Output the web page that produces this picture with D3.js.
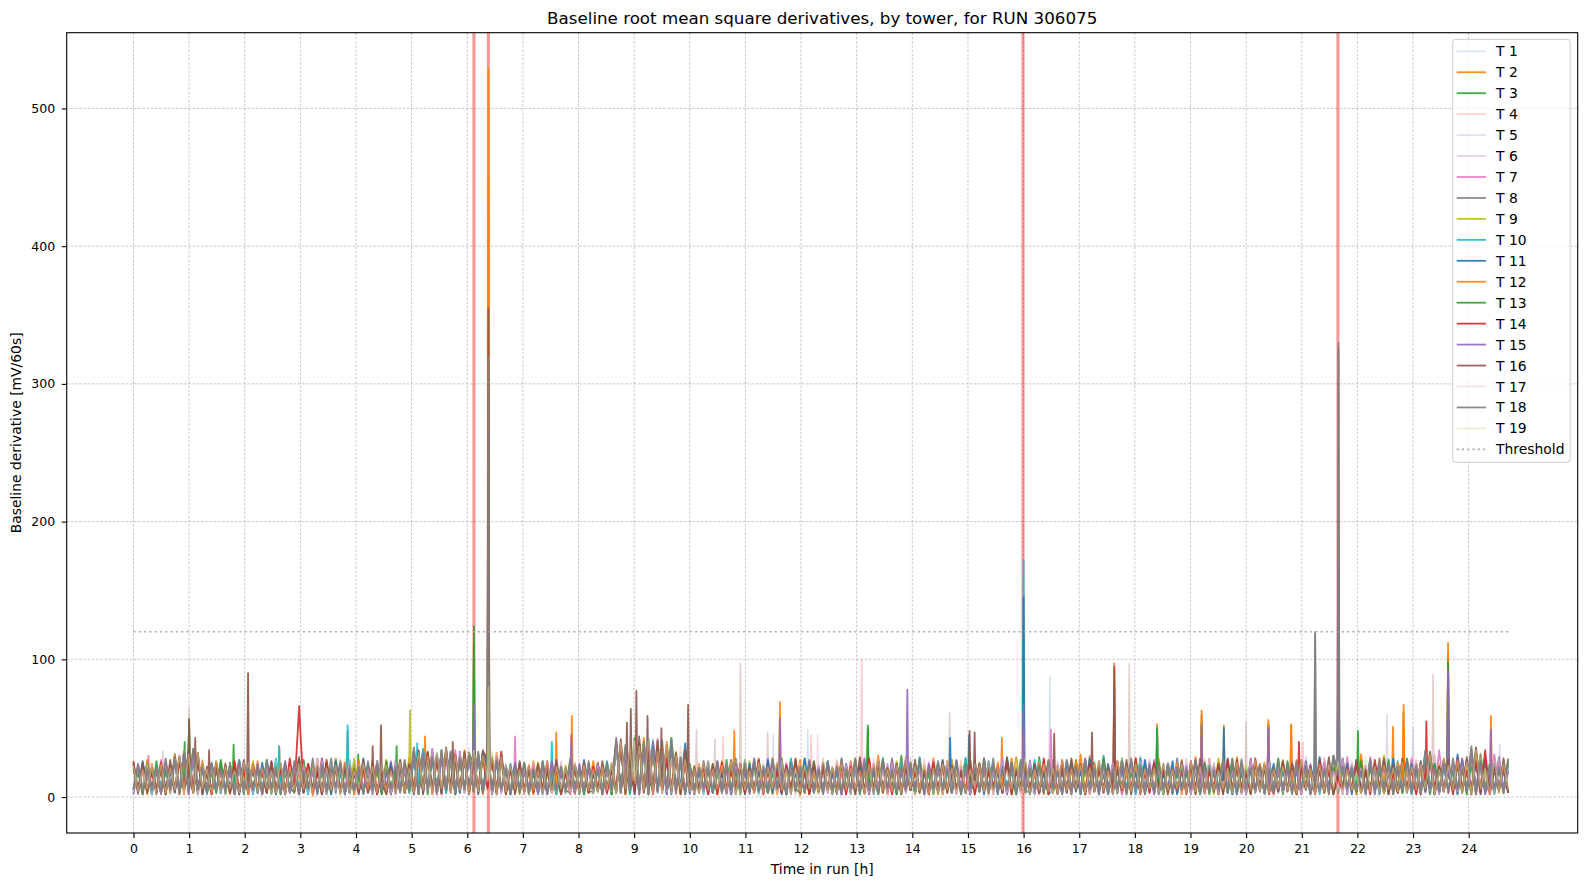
<!DOCTYPE html>
<html><head><meta charset="utf-8">
<script src="https://cdn.jsdelivr.net/npm/d3@7"></script>
<style>body{margin:0;background:#fff} svg{display:block} text{font-family:"DejaVu Sans",sans-serif;fill:#000}</style>
</head><body><svg id="c" width="1586" height="886"></svg>
<script>
// ---------------- data ----------------
const runHours = 24.71;
const towers = d3.range(1, 20).map(i => "T " + i);
const xTicks = d3.range(0, 25);
const yTicks = [0, 100, 200, 300, 400, 500];
const threshold = 120;
const alertHours = [6.12, 6.38, 15.99, 21.65];
const towerColors = ["#aec7e8","#ff7f0e","#2ca02c","#ff9896","#c5b0d5","#c49c94","#e377c2","#7f7f7f","#bcbd22","#17becf","#1f77b4","#ff7f0e","#2ca02c","#d62728","#9467bd","#8c564b","#f7b6d2","#7f7f7f","#dbdb8d"];
const paleTowers = [1, 4, 5, 6, 17, 19];
// base derivative samples, equally spaced over the run; characters 0-9 = 0-9, a-z = 10-35, A-Z = 36-61
const baseT1 = "2h5m3g8p1k6u3x4s7n2j4p6i3 l2g7o3j5r2h6m4q1k8g3n5i2p 4m1j6q3h7l2t5w3v6r2y4s7u1 x3t6q2k7h4o1l5g3p6j2m4h7k 5l2p4B7x3F5u2H6v3q8j2n5h3 j4o2l7g3r5k1n6h3s7i2p5l3g 2r6k3o5h1m7j3t4g6p2l5i3q7 m3j6h2s4o7g1p5k3n8i2r6j4l 4k2q6h3m7j1t5g3o6l2i7p4h3 n5i2s6k3g7p2m5j4r1h6l3q7k 3o6h2u5l3j7g4q2m6i3p5k2s6 k4r2m7h5v3j6p2l4t6i3q5n2k";
const baseT2 = "k5k2o7i3n4u2y6t5h3q7j2m6g4 p3l6h2r5k7g4o1m6j3s2n7h4l 3q6j2n5h4t7r3w5u2x6q4y3s7 w5r2u6m3j7h2p5l3k8g2o6i3q 6j3n5D2w7C4G6y3E5s2r3k7h4 m2q6i4o7h3s5k2n7j4r1l6g3p 4l7g3q2n6j5u3h7k2o5m3i6s2 o6h3l5r2k7i4p3n2t6j5g3m7h 2p5k4v3i6n3l7q2h5s4j6o2m5 k3r6h2n7j4q5g2t6l3i7p2k5o 5i2m7h4s3l2o6k5r3j7n4g6u3 q6k3n5w2j7l4r6h3y5m2s7i4";
const baseT3 = "3m6h2q5j7s4v2z6k3o5i7l2q4 j6n3h5p2l73t4i6m2k5r4h7o3 5h2q6k4m7j3s5x2t6v3r2u5w6 v3s6p4n2i7l5h3q6j2m53o7k4 4p6l2B5y3H6x2D5t3z6o5j2n7 k5h3r2m6j4p7l3i5s2n63h4q7 6o3k5j2r4m7h3p6i2u5l3n7g4 q2l5j6s3h7k4n2o5i6r3m2t5k 3j7n2r5k3p6g2l7s3o5i4m6h2 o4h6l3q2m5j7i3s2k6p4n3r5h 7k3p5i2n6l4u3j7h5q2m6o3k5 l3s6i2x5m4p6j2r5n3v7h4l6o";
const baseT4 = "m6i3n2l7h4q2u6r3j5m2p4k7h3 n2j6l4q3h7m5o2k3i6s4l2h7n 4k7i3o2l6p5t3v6q2y4s6r3x2 t5q3v2j6m4h3o5k7i2l4p3n6h 3m6j2A4v6E3z5C2r6w3n4k6i2 o3l5h6p2j4r5i3m2q7k3h5n2s 5i2o6k3s5h2m7j4p3l6i4r2n5 j6m3q2h5l7o3k4s6i2n53p7j2 l4i7o2s5k3n6h2r5j3m7q2o4i 3n5k2t6h3p4l7j2m5r3i6o2k4 h3q6m2j5s3l7i4o3n2u6k4h5p 5l2r6i4v3n7k2q5h3s6j2o5m";
const baseT5 = "4p2k7h3m6r5w2s4l6i3o2n5j7 k4o2i6r3m5h2q6l3j7n2s5h4k 2l6j4m3p5i6u2y5r4w3t5q6z2 u3r6o5h2l7j4n3q2m6i5k3p7h 7j2o4C6u3F2y5B4s3x6q2m5k3 n6i2p3l5h7q2k4n6j3s2m5h7o 3k5r2h6n3l5p2i7o4j3t6l2m4 q3h6k2o5j4s7l3i4n2q6h3r5k 5m2j7l3p6h2u4k5i6o3n3s7j2 k6q3m4h2r5j6l3o2p7i4n3k5s 3j6o2m5i4t6k3h7q2n5l4r3j6 o2k5h6x3p4l2s6j5v3n7i4q2m";
const baseT6 = "7j3m5i2p6t3u5x2o6k3h5n2r6 h3l7j2o5m3q6i2k4s3h7n5j2p 6k3p2i5n7h3v2s6y4t3w2r6u4 s6u2r3k7i5o2j6m4h3q5l7k2n 2i5m7D3x6B5F2v4A6t3p7l2j5 p4j6h3r2l5m6k3o2i7s4j3n5h 4n2q6k5h3s7j4m2o3r6i2l5p3 i6o3l4t2k5h7n3q5j2m6r3i4o 3q5j2m6s3h4k7o2l5i3u6n2j4 p2m5k7i3r4o2l6h3s5j7k4q2n 6h3n5r2k7i3o4m6j2t5l4p3h7 n5j2q4y6k3m7i2s3p5w6l2o4j";
const baseT7 = "p2o5i3r6k4u5y3q7h2n5j6l3p2 m5j3q6h2o4k7l3s2i5n6p3j4h 5n3k7q2i6m4x3t5w2r6y3u5s7 w2t5q6i3o2m4j7h3r5k2o6l3i 5k2p6E3y5A7w2G3u6r4o2j7m3 l6h2q5n3k7i2s4m6o3j5r2l7h 3m6j2p4r3k6h5o2l3t7i5n2q4 k5r2m3j6p4o2h7l5s3k6i2n4r 6i3o5l2u4j7m3q2h5k6p3r2l7 j3p6m4k2s5n7h3o2j5r4l6i3q 4q2l6o3j7m5h2t4k6n3i7p2r5 m4s6k3o2y5j6n3r4q7i2v5l3";
const baseT8 = "5l3q2k6o4v3x5s2m6i4p3j7n2 o4k2r6m3i7j2p5l4h6s3q2k5n 3j6o4l2q7i5u3z6s2v5r7t3w4 u4x2s5n3k6i7m2q4j5h3p6l2o 3o5k2C7v4E2B6x5F3s7p4l2i6 q3k6n2s5i4o7j3m5l2r6h4p3k 6j2n5m3q7h2o4l6s3i5k4r2n7 l5q3i6k2o4j7s3m2p5h6n3l4q 4n6j2o3r5l7i2m4q6k3s2j5o3 m2s5k6i3p7l2n4r5h6j3o2q7l 3l6q4j2o5m6t3i7n4k2r5s3h6 p6j3o2u5l4r3n7k6w2m5j3t6i";
const baseT9 = "l4n6j3o2l7p5t3w6j2q5l3o6h2 q5i3n2l7k4r3m6h5p2j6k3s5i 6m2l5k7o3j2w6r4u3x5q6v2t5 r5u3q2m7j4k3p6h5i2n7l4o3j 4j6o3B2w5D6y3E4t7x2r5n3k6 o2m5j7k3q4h6n2p3l5i7s2j4m 5k3p6i4n2r6j3l5q2o7h3m5k4 n3r6j5h2p4l7k3o2s6i5m3q2l 3p5k7m2t4i6l3o5j2r6n4k7h3 l6j3q3o5m2s4k7i5n2p6j3l4r 5m2o6k4q3j2s7l5o3i6n3u2k7 r3l6i5w2o4k6q3m2z5j7n3p5";
const baseT10 = "6k3p2n5i7r3w6t4l2o6j5m3q7 j2n6l4s3k5o7i2m3q5l6h2r4j 3o6k2m5j7q4v2y5s6u3x2r6t4 t3v6r5l2o7j4m3h6q2k5n3i7l 6l3q5D4x2B7z5F3s2v6q4m6j2 k3o5l2r6i4q3m7j5h2s6l4o3k 3q6i2o5k4n7j2r5m3p6h2t4l7 p6j3m4s2o5k7h3q6l2n53r6i2 5k7o3n2q6j4u3l5i7m2s6j3p4 o3l6h5r2k7m4q3i2o6n5k3t2m 4j6p3l5r2o7k3m6i2s4q5n3l6 q5m2k6v3o4l7i2p3x5n6j2r4m";
const baseT11 = "n3q5l2o6j3s6y4u2k5p3m7i2o5 l3p6k2o4j7r3n5i6l2q4m3h6s 5j2n6p3l7k2x4s6v3z5u3q7w2 x5q2u3o6k4l7i2n5p3j6m2r4h 4n6k3A5w2C6G3y5r2u7D3k5o2 m5i3q6l2o4j7r3k2n5h6s3l4p 5h2s6k4m3q2p7j4o3r5l6i2n3 r4l6j3p5n2q6k3t4j7m2o5i3l 2m6q4j3s5l6o2k7n4i3r5p2h6 q2j5o7l3n4i6s2m3k5q7l2o4j 6p3l5n2t4k3j7o2r5i6m2q3s5 k6o3q4t2m5n3v6j5p2r4o6k3";
const baseT12 = "5m2r6j4o3v2s6y4q3l5j4n2p6 i5q2m3k6o4n2j7l5s3h6p4m2r 4l6j3r2n5o6y3u5x2t6w4s5v3 v2s5w6l3n2k5q4i3m7j5o2k6l 5p2m6E3z5C2H6w4B5t2s6k3o5 j4n6l3q2k7o5i3s2m6j4r3l5h 6k3o2l5s4j3n6q2i7l4p2o5m3 o2q5k6i3r4m2n7j4s5l3k6p2q 4l6j3q5m2o3r7i4p2k6n5j3s2 m5o2k4t3l6j2q5i7n3r4o5k2m 3n5r2k6i4p5l3o7j2v4m6q3k5 p4l6n2x5k3s6j4o3z2p6l5q3r";
const baseT13 = "6j2o5m3k6t4x2v5n4i3r2p6l3 o5k3q2n6i4l3r5j6p2k7j3o4m 3n5l2q6j4m5z2s6w3y5t2u6r3 s4w2t5j6m3p2l7i4o3k5q6j2n 3l6p2C5A3x6D2z5w3H6s2o5l4 p3k5o6j2r4l5n3i7q2m5k3p6j 4o3l6j5q2n6i3s4m2k7o3r5j2 l6n3q2o5k4s3j6m4p2l5i7n3o 5j2r6k3o5m2s6l3q4i7n3k5p2 n4l7j3q5o2k6r3m5i2p6l3o4s 2q6k4o3m5j7l2s6k4q3n5i6r2 m3p6l5u2o4q6j3r2w5k6o3m4q";
const baseT14 = "q4l6i3p2n5q6v3t5j2o6m3q4k2 n6j3p4l2s5k6o3i2r5m4p6j3l 5o2k6l4r3n3u6x2r5y3v6t2s5 t6r3x2k5o4n3j6q5l2i7k4o3m 6m3k5B6y3D5A2w6s4v3q6j4n2 l2p6j5o3k4r2m7i3n5q6j2l4o 6k4q2m5j3s4o6l2n3r5i7k2p4 o3l6j5q2n4i7m3r2k5o6l3s2j 3r5k6n2o4l6j3q5m4s2i3p6k4 k5n2q6l3j7o2r5m4i3s6n2k5p 5j3o6m2q4k3t6l5p3j2r6n4i3 r5k2p3v6m4o2s5j6q3y2k5n3";
const baseT15 = "2n5k7j3q6s4w2u6l3o5k6i2r5 k4o2m6j5q3n2l7i4s3k6o2m5j 6l3q5i2o4m7v3t5z2s6w3x5r2 r6v3s4k2p5j6n3l2q5i7m3o4k 5o2l6F3v5B2y6E4u2A5r3m6j4 n3q5k2o6j4s5l3p6i2n5k4r3m 3p6j2o4l5s2k7n3q5i4m6l2o5 k5m3r6j2p4n5l3s2o6i4q3k5n 6i2q4l5s3j2n6p5k3r4m5o2l6 o3k5n2r6j4l3q7i5m2s4j6o3k 4n6j2q3l5p6i4s2m5k3r2o6n4 j5q3l6w4k2p5m3s4x6o2n4r5j";
const baseT16 = "o5p3l6k2r4t6z3w2m5j6o3l2r5 j6l3q5o2k4s3i6n2p5l3m6k2r 3r6n2l5q3o6y2w5u3A6t5x2v3 y4s6u3m2q5k6o3j5r2l6n3p4i 4q6n3G2B5I3z6F4C5w2y6m3q5 o5k3r2n6l4q3j7o5m2s3k6p4l 6l3o5j2t4n5q3k6o2m5r3j6l4 q4n6j3r2o5m6k3s4l5p2o3j6n 5k3s6o2l4q3m7j5r2p4k6n3o2 l5q3n2s6k4o3m5r6j2p4m3l6q 4o2r6l5j3t2p6m4q3k5o6s2n3 s3m6p5x2l4r6n3t2A5o6l4s3";
const baseT17 = "3m6o2l5p4r3y6v2n4k5j2o6l4 p3k5n2r6j4m5o3l6q2j5k3s4n 5k2p6n3q4l6z3u5y2x6s4w3t5 v5t2w3o6l4m2q5j6k3n2r5j4p 2n5l4A3x6E5C2y6v4s2B5l3o2 q6k3o4m2s5j6p3l2r4n6o3k5q 5j3r6n2o4l3s6k2p5m4q2l6j3 n2q5k6m3o4r2j5s3l6n4p2k5o 4o3l6j5r2n6k3p4s2m5q3j6l2 q5n3s2l6k4o3r5j6n2q4k3p6m 3k6p2o4m5q2j6s3n5l2t4o6k3 n6l3r3w5k2q6o4m5z3j6p2s4l";
const baseT18 = "6o3k5m2s5q2x4z5l3p6k4n2q6 l5m3r6k2o4q3j6s2n4l7o3k5m 2q5o4k6m3r5A2v6t3y5x2s6u4 x3u5r6l2n4p3k6o2j5m4s6l3q 6k2o5H3C6z4E2A5x6G3t2n5l6 l4q3n5k6o2r4l3s6j2p5m3q4k 2q5m4k6s3o5l2r6j3n5p4s2k6 p5k3q2n6l4s3o5j6m2q4l5n3r 6j3o5m2r6l4p3k6q2s5n2l4o6 o3m5k6q2n4j5s3p2r6l5n3k4q 5l2q6n3o5k2u4m6l5j3s3p6o2 m5r3n2y6l4o3s6k5B2q4o6l3s";
const baseT19 = "n4k6m2o3l5u5v2w6k3q4m6j3p2 n4l6j3q2m5o6k3r4l5n2s3j6o 6m3n5j2p4l3w5t2x6z3v5s2y4 u5x2t4n6k3o5j2q3m6l4p2n5k 3m5o2E6z3B5G2x4D3u6r4k2p5 k6n3q2o5j4p3m6r5k2l4n6j3s 4m2q5l6j3o2r5k4n3s6m5o2l3 o5l2r3k6n4q2m5j6p3s2k5o4l 2s5k6n3l4q5j2r6m4o3k6l2p5 k6o3q4m2s5j6l3p2n5r4o3k6m 5j3r6l2o4n6q3k5i2t4m3n6l4 q3m5o6v2k4n5r3p3y6l2r4o5";
const baseSeries = [baseT1, baseT2, baseT3, baseT4, baseT5, baseT6, baseT7, baseT8, baseT9, baseT10, baseT11, baseT12, baseT13, baseT14, baseT15, baseT16, baseT17, baseT18, baseT19];
// isolated 1-minute spikes: [tower, hour, value 1 min before, peak, value 1 min after]
const spikes = [
 [2,6.38,30,529,25],[2,6.12,20,48,18],[2,11.62,14,69,12],[2,7.88,12,59,10],[2,7.6,12,47,10],[2,17.63,14,97,12],[2,19.2,12,63,10],[2,20.4,12,56,10],[2,22.83,14,67,12],[2,23.63,16,112,14],[2,24.4,12,59,10],[2,5.24,14,44,12],[2,21.66,14,55,12],[2,10.8,12,48,10],[2,15.61,12,43,10],[2,22.64,12,51,10],[2,19.6,12,52,10],[2,20.81,12,53,10],[2,18.4,12,53,10],[2,2.62,12,37,10],
 [12,6.38,28,450,22],[12,23.63,16,105,14],[12,17.63,14,92,12],[12,22.83,12,62,10],[12,19.2,12,60,10],[12,21.66,13,50,12],[12,16.0,12,45,10],[12,20.4,12,54,10],[12,20.81,12,52,10],
 [16,6.38,26,355,20],[16,2.06,12,90,10],[16,1.11,12,43,10],[16,4.45,12,52,10],[16,4.3,12,37,10],[16,8.87,14,54,12],[16,8.94,14,64,12],[16,9.04,16,77,14],[16,9.24,14,59,12],[16,9.49,12,50,10],[16,9.97,12,67,10],[16,1.36,12,34,10],[16,15.03,12,48,10],[16,15.12,12,47,10],[16,17.63,14,95,12],[16,5.74,14,40,12],[16,1.0,14,56,12],[16,16.55,12,46,10],[16,17.23,12,47,10],
 [18,6.38,24,320,22],[18,21.66,20,330,18],[18,21.24,12,118,10],
 [8,6.38,25,300,20],[8,21.66,18,325,16],[8,21.24,12,120,10],[8,3.85,12,48,10],
 [3,6.12,25,124,20],[3,6.38,20,120,16],[3,1.0,14,57,12],[3,13.2,12,52,10],[3,1.8,12,38,10],[3,4.73,12,37,10],[3,4.04,12,31,10],[3,23.63,16,100,14],[3,22.01,12,48,10],[3,19.2,12,55,10],[3,0.92,12,40,10],
 [13,6.12,22,110,18],[13,13.2,12,50,10],[13,1.0,14,54,12],[13,23.63,16,98,14],[13,21.66,12,45,10],[13,18.4,12,50,10],
 [15,6.12,20,68,16],[15,6.38,20,160,18],[15,16.0,12,67,10],[15,21.66,16,171,14],[15,13.91,12,78,10],[15,11.62,12,57,10],[15,7.87,12,45,10],[15,23.63,16,92,14],[15,24.4,12,49,10],[15,20.4,12,50,10],[15,19.2,12,52,10],[15,17.63,12,80,10],
 [10,16.0,15,172,12],[10,3.85,12,52,10],[10,6.38,22,250,18],[10,5.1,12,39,10],[10,7.52,12,40,10],[10,21.66,14,120,12],[10,2.62,12,37,10],[10,20.4,12,52,10],[10,18.4,12,50,10],
 [11,16.0,14,145,12],[11,6.38,20,200,18],[11,21.66,15,160,14],[11,14.68,12,43,10],[11,20.4,12,52,10],[11,19.6,12,50,10],[11,15.02,12,45,10],
 [14,2.98,55,66,50],[14,23.24,12,55,10],[14,21.66,12,45,10],[14,20.95,12,40,10],
 [9,4.97,14,63,12],[9,6.38,18,150,15],
 [7,0.27,12,30,10],[7,6.86,12,44,10],[7,16.49,12,49,10],[7,6.38,18,120,15],
 [6,1.0,14,65,12],[6,10.91,12,97,10],[6,10.12,12,49,10],[6,14.67,12,61,10],[6,17.9,12,97,10],[6,20.0,12,55,10],[6,23.36,14,89,12],[6,0.53,12,33,10],[6,11.4,12,47,10],[6,10.45,12,42,10],
 [4,13.09,12,100,10],[4,12.18,12,45,10],[4,21.02,12,40,10],[4,10.6,12,44,10],
 [1,16.47,12,87,10],[1,12.12,12,49,10],[1,11.5,12,45,10],
 [5,22.53,12,60,10],[5,23.0,12,50,10],[5,24.56,12,38,10],
 [17,6.38,15,90,12],[17,12.3,12,45,10],
 [19,6.38,14,80,12],[19,9.0,12,40,10]
];

// ---------------- build series ----------------
const alphabet = "0123456789abcdefghijklmnopqrstuvwxyzABCDEFGHIJKLMNOPQRSTUVWXYZ";
const oneMin = 1 / 60;
const series = baseSeries.map((str, k) => {
  const vals = str.replace(/\s+/g, "").split("").map(c => alphabet.indexOf(c));
  const n = vals.length;
  const mine = spikes.filter(s => s[0] === k + 1);
  let pts = vals.map((v, i) => [i * runHours / (n - 1), v])
    .filter(p => !mine.some(s => Math.abs(p[0] - s[1]) <= oneMin * 1.5));
  mine.forEach(s => { pts.push([s[1] - oneMin, s[2]], [s[1], s[3]], [s[1] + oneMin, s[4]]); });
  pts.sort((a, b) => a[0] - b[0]);
  return { name: towers[k], color: towerColors[k], pale: paleTowers.includes(k + 1), pts };
});

// ---------------- layout ----------------
const L = 66.7, R = 1577.7, T = 32.7, B = 833;
const svg = d3.select("#c");
const x = d3.scaleLinear().domain([-1.2, 25.96]).range([L, R]);
const y = d3.scaleLinear().domain([-26.1, 555.0]).range([B, T]);

svg.append("defs").append("clipPath").attr("id", "clip")
  .append("rect").attr("x", L).attr("y", T).attr("width", R - L).attr("height", B - T);

// grid
const grid = svg.append("g");
grid.selectAll("line.gx").data(xTicks).join("line")
  .attr("x1", d => x(d)).attr("x2", d => x(d)).attr("y1", T).attr("y2", B)
  .attr("stroke", "#b0b0b0").attr("stroke-width", 0.7).attr("stroke-dasharray", "2.6,1.6");
grid.selectAll("line.gy").data(yTicks).join("line")
  .attr("y1", d => y(d)).attr("y2", d => y(d)).attr("x1", L).attr("x2", R)
  .attr("stroke", "#b0b0b0").attr("stroke-width", 0.7).attr("stroke-dasharray", "2.6,1.6");

const plot = svg.append("g").attr("clip-path", "url(#clip)");
// alert lines
plot.selectAll("line.alert").data(alertHours).join("line")
  .attr("x1", d => x(d)).attr("x2", d => x(d)).attr("y1", T).attr("y2", B)
  .attr("stroke", "red").attr("stroke-opacity", 0.42).attr("stroke-width", 3);

const line = d3.line().x(d => x(d[0])).y(d => y(d[1]));
plot.selectAll("path.tower").data(series).join("path")
  .attr("d", d => line(d.pts))
  .attr("fill", "none")
  .attr("stroke", d => d.color)
  .attr("stroke-opacity", d => d.pale ? 0.5 : 0.9)
  .attr("stroke-width", d => d.pale ? 1.5 : 1.8)
  .attr("stroke-linejoin", "round");

// threshold
plot.append("line")
  .attr("x1", x(0)).attr("x2", x(runHours)).attr("y1", y(threshold)).attr("y2", y(threshold))
  .attr("stroke", "#aaaaaa").attr("stroke-width", 1.6).attr("stroke-dasharray", "2,3.3");

// axes
const xAxis = svg.append("g").attr("transform", `translate(0,${B})`)
  .call(d3.axisBottom(x).tickValues(xTicks).tickFormat(d3.format("d")).tickSize(5).tickSizeOuter(0).tickPadding(6.5));
const yAxis = svg.append("g").attr("transform", `translate(${L},0)`)
  .call(d3.axisLeft(y).tickValues(yTicks).tickFormat(d3.format("d")).tickSize(5).tickSizeOuter(0).tickPadding(6.5));
[xAxis, yAxis].forEach(a => {
  a.select(".domain").remove();
  a.selectAll(".tick line").attr("stroke", "#000").attr("stroke-width", 1.1);
  a.selectAll(".tick text").attr("font-family", "DejaVu Sans").attr("font-size", 12.5).attr("fill", "#000");
});

// spines
svg.append("rect").attr("x", L).attr("y", T).attr("width", R - L).attr("height", B - T)
  .attr("fill", "none").attr("stroke", "#000").attr("stroke-width", 1.1);

// titles
svg.append("text").attr("x", (L + R) / 2).attr("y", 24.2).attr("text-anchor", "middle")
  .attr("font-size", 16.7).text("Baseline root mean square derivatives, by tower, for RUN 306075");
svg.append("text").attr("x", (L + R) / 2).attr("y", 874).attr("text-anchor", "middle")
  .attr("font-size", 13.9).text("Time in run [h]");
svg.append("text").attr("transform", `translate(20.5,${(T + B) / 2}) rotate(-90)`).attr("text-anchor", "middle")
  .attr("font-size", 13.9).text("Baseline derivative [mV/60s]");

// legend
const lg = svg.append("g");
const rowH = 20.95;
lg.append("rect").attr("x", 1452.7).attr("y", 39.3).attr("width", 117.5).attr("height", 423).attr("rx", 3)
  .attr("fill", "#fff").attr("fill-opacity", 0.8).attr("stroke", "#cccccc").attr("stroke-width", 1);
const entries = series.map(s => ({ name: s.name, color: s.color, op: s.pale ? 0.5 : 0.9, dash: null, w: s.pale ? 1.5 : 1.8 }))
  .concat([{ name: "Threshold", color: "#aaaaaa", op: 1, dash: "2,3.3", w: 1.6 }]);
const row = lg.selectAll("g.row").data(entries).join("g")
  .attr("transform", (d, i) => `translate(0,${51.3 + i * rowH})`);
row.append("line").attr("x1", 1456.7).attr("x2", 1486).attr("y1", 0).attr("y2", 0)
  .attr("stroke", d => d.color).attr("stroke-opacity", d => d.op).attr("stroke-width", d => d.w)
  .attr("stroke-dasharray", d => d.dash);
row.append("text").attr("x", 1496).attr("y", 5).attr("font-size", 13.9).text(d => d.name);
</script></body></html>
